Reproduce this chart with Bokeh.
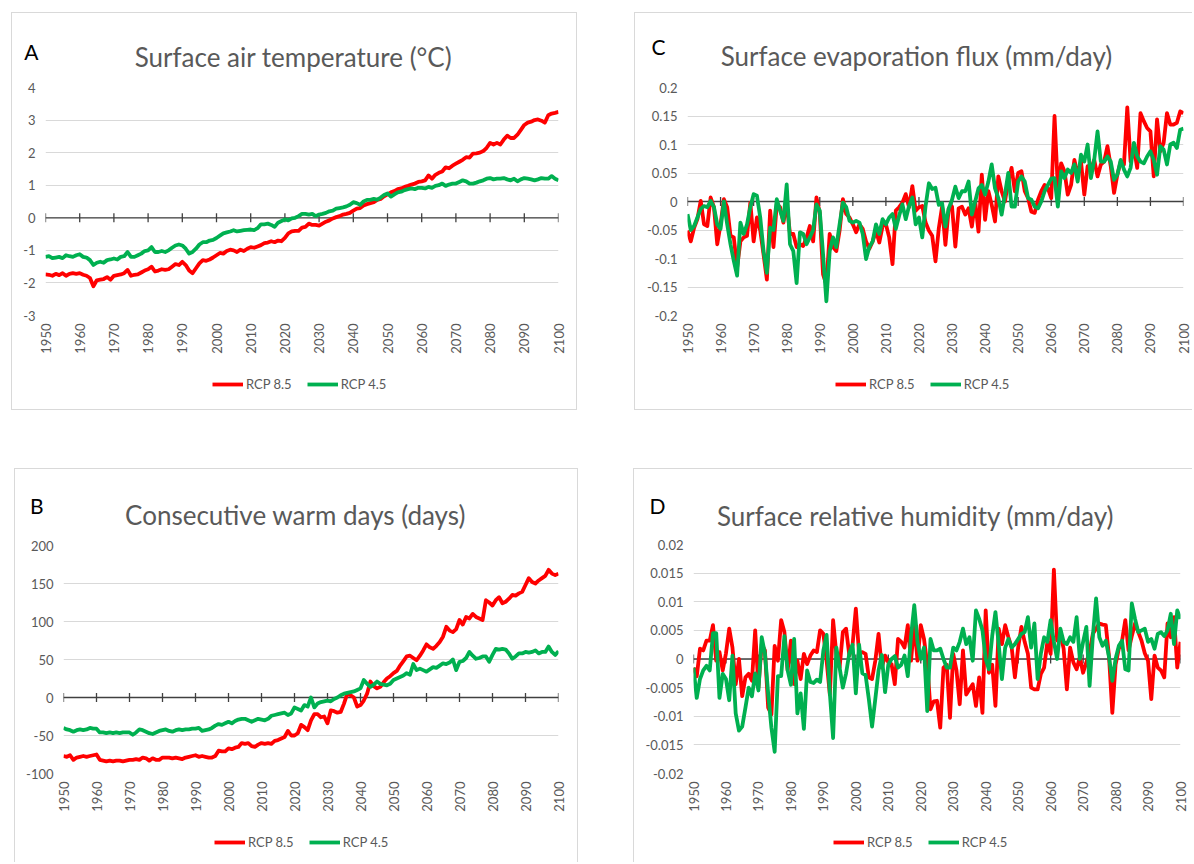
import math
from bokeh.plotting import figure
from bokeh.models import (Range1d, FixedTicker, Legend, LegendItem, Spacer, Span)
from bokeh.layouts import column, row
from bokeh.embed import file_html
from bokeh.resources import INLINE
from bokeh.core.properties import value

years = list(range(1950, 2101))
x_ticks = list(range(1950, 2101, 10))
x_tick_zero = [0] * len(x_ticks)

# ---------------- A: surface air temperature (°C) ----------------
temp_85 = [
    -1.74, -1.75, -1.78, -1.72, -1.76, -1.70, -1.78, -1.72, -1.70, -1.72,
    -1.70, -1.75, -1.78, -1.85, -2.10, -1.92, -1.90, -1.88, -1.82, -1.90,
    -1.78, -1.76, -1.74, -1.70, -1.60, -1.78, -1.75, -1.74, -1.68, -1.62,
    -1.58, -1.50, -1.65, -1.62, -1.58, -1.60, -1.58, -1.50, -1.42, -1.45,
    -1.35, -1.45, -1.62, -1.70, -1.55, -1.40, -1.30, -1.32, -1.28, -1.22,
    -1.15, -1.08, -1.10, -1.02, -0.98, -1.00, -1.05, -0.98, -1.02, -0.95,
    -0.90, -0.92, -0.88, -0.84, -0.78, -0.76, -0.72, -0.75, -0.70, -0.72,
    -0.62, -0.48, -0.42, -0.40, -0.40, -0.30, -0.28, -0.18, -0.22, -0.22,
    -0.24, -0.18, -0.12, -0.08, -0.02, 0.02, 0.05, 0.10, 0.12, 0.15,
    0.22, 0.28, 0.30, 0.38, 0.42, 0.45, 0.48, 0.55, 0.58, 0.66,
    0.72, 0.78, 0.82, 0.88, 0.90, 0.95, 0.98, 1.02, 1.05, 1.10,
    1.12, 1.15, 1.30, 1.20, 1.32, 1.38, 1.42, 1.55, 1.52, 1.60,
    1.66, 1.72, 1.78, 1.86, 1.85, 1.97, 1.98, 2.00, 2.05, 2.15,
    2.30, 2.25, 2.30, 2.25, 2.40, 2.52, 2.45, 2.45, 2.55, 2.70,
    2.85, 2.92, 2.95, 3.00, 3.02, 2.98, 2.92, 3.15, 3.20, 3.22,
    3.25,
]
temp_45 = [
    -1.20, -1.18, -1.24, -1.22, -1.20, -1.24, -1.15, -1.18, -1.20, -1.15,
    -1.12, -1.20, -1.22, -1.30, -1.45, -1.38, -1.35, -1.38, -1.30, -1.28,
    -1.25, -1.28, -1.20, -1.18, -1.05, -1.20, -1.20, -1.15, -1.10, -1.02,
    -1.00, -0.90, -1.05, -1.05, -1.02, -1.05, -1.00, -0.92, -0.85, -0.82,
    -0.85, -0.95, -1.10, -1.05, -0.95, -0.82, -0.75, -0.75, -0.70, -0.68,
    -0.62, -0.55, -0.48, -0.45, -0.42, -0.38, -0.42, -0.40, -0.38, -0.37,
    -0.36, -0.38, -0.32, -0.20, -0.20, -0.18, -0.22, -0.28, -0.15, -0.10,
    -0.05, -0.08, -0.02, 0.00, 0.05, 0.12, 0.12, 0.10, 0.12, 0.05,
    0.10, 0.12, 0.15, 0.20, 0.22, 0.28, 0.30, 0.32, 0.35, 0.40,
    0.48, 0.45, 0.40, 0.50, 0.55, 0.55, 0.58, 0.56, 0.62, 0.70,
    0.75, 0.65, 0.72, 0.78, 0.80, 0.85, 0.88, 0.90, 0.88, 0.92,
    0.92, 0.90, 0.95, 0.92, 0.98, 1.00, 1.05, 0.98, 1.02, 1.05,
    1.05, 1.10, 1.15, 1.12, 1.05, 1.05, 1.08, 1.12, 1.15, 1.20,
    1.22, 1.18, 1.20, 1.20, 1.22, 1.18, 1.15, 1.20, 1.12, 1.18,
    1.22, 1.20, 1.18, 1.15, 1.18, 1.22, 1.20, 1.20, 1.28, 1.20,
    1.15,
]
temp_ticks = [-3, -2, -1, 0, 1, 2, 3, 4]
temp_tick_labels = ["-3", "-2", "-1", "0", "1", "2", "3", "4"]

# ---------------- B: consecutive warm days (days) ----------------
cwd_85 = [
    -77, -78, -76, -82, -79, -78, -77, -78, -77, -76,
    -75, -82, -83, -84, -83, -84, -83, -83, -84, -83,
    -82, -82, -81, -82, -79, -80, -83, -80, -82, -82,
    -79, -79, -79, -80, -79, -80, -81, -79, -78, -77,
    -76, -78, -77, -78, -79, -79, -77, -70, -71, -71,
    -67, -68, -66, -65, -60, -61, -60, -64, -65, -62,
    -60, -61, -60, -61, -57, -56, -54, -52, -44, -50,
    -50, -47, -36, -39, -43, -30, -22, -22, -26, -25,
    -34, -17, -18, -20, -19, -8, 5, 3, 0, -12,
    -10, -4, 5, 21, 15, 12, 14, 20, 25, 28,
    32, 35, 42, 48, 54, 55, 52, 49, 55, 62,
    70, 66, 64, 68, 73, 80, 93, 88, 86, 90,
    102, 96, 106, 104, 110, 106, 104, 102, 128, 125,
    121, 128, 132, 124, 126, 130, 135, 134, 137, 139,
    148, 157, 152, 150, 154, 157, 160, 168, 163, 161,
    163,
]
cwd_45 = [
    -40, -42, -43, -45, -43, -42, -43, -42, -40, -41,
    -41, -46, -46, -47, -46, -47, -46, -47, -46, -46,
    -46, -49, -46, -42, -43, -45, -47, -48, -46, -44,
    -43, -42, -44, -45, -43, -42, -43, -42, -42, -41,
    -41, -40, -44, -43, -42, -40, -37, -35, -36, -34,
    -32, -34, -31, -29, -28, -28, -30, -32, -30, -28,
    -29, -30, -28, -24, -23, -22, -21, -20, -23, -21,
    -13, -15, -17, -10, -12, 0, -13, -8, -6, -5,
    -4, -5, -2, 0, 3, 5, 6, 7, 8, 10,
    12, 23, 18, 14, 17, 21, 18, 17, 16, 18,
    23, 25, 27, 29, 32, 30, 44, 36, 38, 36,
    34, 37, 40, 39, 42, 45, 44, 46, 50, 36,
    47, 48, 52, 60, 55, 51, 52, 54, 54, 47,
    56, 64, 63, 64, 63, 58, 51, 54, 58, 58,
    60, 59, 60, 62, 58, 60, 60, 67, 60, 56,
    61,
]
cwd_ticks = [-100, -50, 0, 50, 100, 150, 200]
cwd_tick_labels = ["-100", "-50", "0", "50", "100", "150", "200"]

# ---------------- C: surface evaporation flux (mm/day) ----------------
evap_85 = [
    -0.051, -0.070, -0.046, -0.031, 0.001, -0.040, -0.043, 0.007, -0.010, -0.075,
    -0.040, 0.004, -0.010, -0.060, -0.063, -0.116, -0.070, -0.063, -0.060, -0.002,
    -0.070, -0.028, -0.051, -0.093, -0.137, -0.016, -0.080, -0.005, -0.010, -0.037,
    -0.002, -0.057, -0.057, -0.080, -0.075, -0.078, -0.063, -0.043, -0.070, 0.007,
    -0.020, -0.128, -0.146, -0.057, -0.080, -0.087, -0.051, 0.004, -0.022, -0.028,
    -0.040, -0.054, -0.040, -0.048, -0.070, -0.083, -0.070, -0.051, -0.072, -0.043,
    -0.040, -0.063, -0.110, -0.016, -0.010, -0.002, 0.013, -0.010, 0.027, -0.016,
    -0.010, -0.008, -0.037, -0.051, -0.060, -0.105, -0.047, -0.009, -0.076, -0.012,
    -0.009, -0.079, -0.012, -0.009, -0.023, -0.012, -0.044, 0.000, -0.053, 0.047,
    -0.032, 0.018, -0.006, -0.035, 0.044, 0.018, 0.000, 0.035, 0.059, 0.018,
    0.050, 0.053, 0.018, 0.006, -0.018, -0.020, 0.003, 0.018, 0.029, 0.023,
    0.006, 0.150, 0.023, 0.067, 0.053, 0.012, 0.029, 0.073, 0.047, 0.070,
    0.012, 0.062, 0.056, 0.073, 0.044, 0.065, 0.070, 0.097, 0.062, 0.015,
    0.047, 0.070, 0.065, 0.165, 0.070, 0.094, 0.059, 0.155, 0.141, 0.129,
    0.123, 0.044, 0.144, 0.088, 0.103, 0.155, 0.135, 0.135, 0.138, 0.158,
    0.155,
]
evap_45 = [
    -0.022, -0.050, -0.043, -0.028, -0.013, -0.008, -0.010, 0.001, -0.010, -0.040,
    -0.048, 0.000, -0.040, -0.075, -0.104, -0.130, -0.037, -0.057, -0.040, -0.010,
    0.013, 0.010, -0.028, -0.087, -0.125, -0.046, -0.050, 0.004, -0.016, -0.034,
    0.030, -0.075, -0.087, -0.143, -0.054, -0.057, -0.075, -0.063, -0.050, -0.005,
    -0.016, -0.093, -0.175, -0.087, -0.063, -0.080, -0.040, -0.002, -0.010, -0.034,
    -0.037, -0.034, -0.037, -0.057, -0.101, -0.080, -0.070, -0.040, -0.057, -0.031,
    -0.040, -0.028, -0.022, -0.048, -0.025, -0.005, -0.031, -0.008, 0.007, -0.040,
    -0.028, -0.063, -0.008, 0.032, 0.022, 0.024, -0.006, -0.003, -0.044, -0.012,
    0.003, 0.026, 0.006, 0.018, 0.018, 0.035, -0.023, 0.000, 0.023, 0.029,
    0.012, 0.035, 0.065, 0.023, 0.006, -0.023, 0.012, 0.050, -0.009, -0.009,
    0.035, 0.044, 0.035, 0.006, 0.003, -0.009, -0.012, 0.000, 0.018, 0.029,
    0.040, 0.041, -0.009, 0.053, 0.041, 0.056, 0.050, 0.065, 0.035, 0.082,
    0.070, 0.100, 0.041, 0.073, 0.123, 0.070, 0.070, 0.079, 0.070, 0.038,
    0.047, 0.073, 0.056, 0.044, 0.059, 0.103, 0.079, 0.070, 0.067, 0.079,
    0.088, 0.073, 0.047, 0.097, 0.091, 0.065, 0.100, 0.103, 0.094, 0.126,
    0.128,
]
evap_ticks = [-0.2, -0.15, -0.1, -0.05, 0, 0.05, 0.1, 0.15, 0.2]
evap_tick_labels = ["-0.2", "-0.15", "-0.1", "-0.05", "0", "0.05", "0.1", "0.15", "0.2"]

# ---------------- D: surface relative humidity (mm/day) ----------------
hum_85 = [
    -0.0015, -0.0030, 0.0018, 0.0015, 0.0032, 0.0032, 0.0059, -0.0003, 0.0012, -0.0020,
    0.0010, 0.0053, 0.0020, -0.0044, 0.0000, -0.0065, -0.0032, -0.0026, -0.0038, 0.0050,
    -0.0050, 0.0026, 0.0015, -0.0085, -0.0097, 0.0023, -0.0003, 0.0068, 0.0047, -0.0020,
    0.0032, -0.0044, -0.0003, -0.0035, 0.0009, -0.0009, 0.0006, 0.0015, 0.0012, 0.0050,
    0.0044, -0.0003, -0.0062, 0.0068, 0.0009, -0.0015, 0.0047, 0.0053, 0.0006, 0.0025,
    0.0088, 0.0009, 0.0012, 0.0009, -0.0032, -0.0035, -0.0003, 0.0044, -0.0015, 0.0006,
    -0.0006, -0.0009, -0.0044, 0.0035, 0.0030, 0.0020, 0.0059, -0.0003, 0.0062, -0.0003,
    0.0059, 0.0035, -0.0009, -0.0088, -0.0074, -0.0073, -0.0120, -0.0015, -0.0010, -0.0103,
    0.0009, -0.0020, -0.0079, 0.0015, -0.0062, -0.0053, -0.0044, -0.0082, -0.0032, -0.0094,
    0.0085, -0.0024, -0.0010, -0.0082, 0.0053, 0.0026, 0.0059, 0.0038, 0.0020, -0.0032,
    0.0020, 0.0056, 0.0030, 0.0009, -0.0050, -0.0053, -0.0053, -0.0026, -0.0015, 0.0030,
    0.0009, 0.0156, 0.0032, 0.0044, 0.0018, -0.0053, 0.0020, -0.0006, -0.0018, 0.0003,
    -0.0024, -0.0006, 0.0012, 0.0044, 0.0053, 0.0062, 0.0060, 0.0059, 0.0003, -0.0094,
    -0.0010, 0.0018, 0.0032, 0.0068, 0.0015, 0.0040, 0.0062, 0.0047, 0.0032, 0.0010,
    -0.0003, -0.0070, 0.0006, -0.0015, -0.0020, -0.0032, 0.0062, 0.0038, 0.0073, -0.0015,
    0.0030,
]
hum_45 = [
    -0.0015, -0.0068, -0.0035, -0.0020, -0.0012, -0.0020, 0.0045, 0.0045, -0.0068, -0.0026,
    -0.0035, -0.0072, 0.0006, -0.0095, -0.0125, -0.0118, -0.0085, -0.0050, -0.0065, -0.0025,
    -0.0055, 0.0038, 0.0010, -0.0060, -0.0120, -0.0162, -0.0030, -0.0030, 0.0040, -0.0020,
    -0.0045, 0.0035, -0.0095, -0.0060, -0.0122, -0.0020, -0.0040, -0.0042, -0.0036, -0.0040,
    0.0015, 0.0042, -0.0060, -0.0138, 0.0020, -0.0015, -0.0050, -0.0025, 0.0010, 0.0025,
    -0.0060, 0.0025, -0.0025, -0.0028, -0.0070, -0.0118, -0.0070, -0.0020, 0.0007, -0.0058,
    -0.0010, 0.0000, 0.0005, -0.0015, -0.0010, 0.0006, -0.0030, 0.0040, 0.0094, 0.0030,
    0.0000, 0.0020, -0.0091, 0.0035, 0.0015, 0.0015, 0.0018, 0.0000, -0.0015, -0.0015,
    0.0020, 0.0015, 0.0030, 0.0053, 0.0026, 0.0038, -0.0003, 0.0085, 0.0070, 0.0050,
    0.0000, -0.0018, 0.0040, 0.0082, 0.0026, -0.0035, 0.0020, 0.0035, 0.0020, 0.0026,
    0.0035, 0.0044, 0.0047, 0.0073, 0.0020, 0.0062, -0.0035, 0.0010, 0.0038, 0.0030,
    0.0068, 0.0030, 0.0000, 0.0053, 0.0030, 0.0026, 0.0038, 0.0030, 0.0073, 0.0000,
    0.0030, 0.0056, -0.0047, 0.0040, 0.0106, 0.0038, 0.0023, 0.0032, 0.0003, -0.0038,
    0.0000, 0.0023, 0.0032, -0.0018, -0.0020, 0.0097, 0.0070, 0.0047, 0.0050, 0.0053,
    0.0030, 0.0035, 0.0018, 0.0044, 0.0047, 0.0040, 0.0050, 0.0079, 0.0026, 0.0085,
    0.0070,
]
hum_ticks = [-0.02, -0.015, -0.01, -0.005, 0, 0.005, 0.01, 0.015, 0.02]
hum_tick_labels = ["-0.02", "-0.015", "-0.01", "-0.005", "0", "0.005", "0.01", "0.015", "0.02"]

series_names = ["RCP 8.5", "RCP 4.5"]
RED = "#ff0000"
GREEN = "#00b050"
GRAY = "#595959"
AXIS = "#404040"
FONT = "Lato"
BORDER = "1px solid #d9d9d9"
LW = 3.8


def blank_fig(w, h, left, right, x_end, y_end):
    f = figure(width=w, height=h, x_range=Range1d(0, x_end), y_range=Range1d(0, y_end),
               x_axis_type=None, title=None, output_backend="svg",
               toolbar_location=None, min_border_left=left, min_border_right=right,
               min_border_top=0, min_border_bottom=0, outline_line_color=None,
               background_fill_color="white", border_fill_color="white")
    f.xgrid.visible = False
    f.ygrid.visible = False
    return f


def make_panel(s85, s45, ticks, tick_labels, title, letter, inner_w, inner_h,
               left, right, header_h, footer_h, top, bottom,
               title_pos, letter_pos, legend_pos, sides):
    fw = inner_w - left - right

    # ---- header: chart title (text glyph) and panel letter (left label) ----
    h = blank_fig(inner_w, header_h, left, right, fw, header_h)
    h.text(x=[title_pos[0]], y=[title_pos[1]], text=[title],
           text_font=value(FONT), text_font_size=value("26px"),
           text_color=GRAY, text_align="center", text_baseline="alphabetic")
    h.yaxis.ticker = FixedTicker(ticks=[letter_pos[1]])
    h.yaxis.major_label_overrides = {letter_pos[1]: letter}
    h.yaxis.major_label_standoff = letter_pos[0]
    h.yaxis.axis_line_color = None
    h.yaxis.major_tick_line_color = None
    h.yaxis.minor_tick_line_color = None
    h.yaxis.major_tick_in = 0
    h.yaxis.major_tick_out = 0
    h.yaxis.major_label_text_font = FONT
    h.yaxis.major_label_text_font_size = "21px"
    h.yaxis.major_label_text_color = "#000000"

    # ---- chart ----
    p = figure(width=inner_w, height=inner_h - header_h - footer_h,
               x_range=Range1d(1950, 2100),
               y_range=Range1d(ticks[0], ticks[-1]),
               output_backend="svg", toolbar_location=None, title=None,
               min_border_left=left, min_border_right=right,
               min_border_top=top, min_border_bottom=bottom,
               background_fill_color="white", border_fill_color="white",
               outline_line_color=None)

    p.xaxis.ticker = FixedTicker(ticks=x_ticks)
    p.xaxis.axis_line_color = None
    p.xaxis.major_tick_line_color = None
    p.xaxis.minor_tick_line_color = None
    p.xaxis.major_tick_in = 0
    p.xaxis.major_tick_out = 0
    p.xaxis.major_label_orientation = math.pi / 2
    p.xaxis.major_label_standoff = 8
    p.xaxis.major_label_text_font = FONT
    p.xaxis.major_label_text_font_size = "13px"
    p.xaxis.major_label_text_color = GRAY

    p.yaxis.ticker = FixedTicker(ticks=ticks)
    p.yaxis.major_label_overrides = {t: s for t, s in zip(ticks, tick_labels)}
    p.yaxis.axis_line_color = None
    p.yaxis.major_tick_line_color = None
    p.yaxis.minor_tick_line_color = None
    p.yaxis.major_tick_in = 0
    p.yaxis.major_tick_out = 0
    p.yaxis.major_label_standoff = 10
    p.yaxis.major_label_text_font = FONT
    p.yaxis.major_label_text_font_size = "13px"
    p.yaxis.major_label_text_color = GRAY

    p.xgrid.grid_line_color = None
    p.ygrid.grid_line_color = "#d9d9d9"
    p.ygrid.grid_line_width = 1

    p.add_layout(Span(location=0, dimension="width", line_color=AXIS,
                      line_width=1.3, level="underlay"))
    p.scatter(x=x_ticks, y=x_tick_zero, marker="dash", angle=math.pi / 2,
              size=9, line_color=AXIS, line_width=1.3)

    p.line(years, s85, line_color=RED, line_width=LW, line_join="round")
    p.line(years, s45, line_color=GREEN, line_width=LW, line_join="round")

    # ---- footer: legend (its renderers carry the same series, out of this
    #      footer's view, only to give the legend its line samples) ----
    f = blank_fig(inner_w, footer_h, left, right, fw, footer_h)
    f.yaxis.visible = False
    k85 = f.line(years, s85, line_color=RED, line_width=LW)
    k45 = f.line(years, s45, line_color=GREEN, line_width=LW)
    legend = Legend(items=[LegendItem(label=series_names[0], renderers=[k85]),
                           LegendItem(label=series_names[1], renderers=[k45])],
                    location=legend_pos, orientation="horizontal",
                    border_line_color=None, background_fill_alpha=0,
                    padding=0, margin=0, spacing=15,
                    glyph_width=31, glyph_height=14, label_height=14,
                    label_standoff=3, label_text_font=FONT,
                    label_text_font_size="13px", label_text_color=GRAY)
    f.add_layout(legend)

    styles = {"border-" + s: BORDER for s in sides}
    return column(h, p, f, styles=styles)


# panel A: box x 11..577, y 12..410 (inner 12..576 x 13..409)
pA = make_panel(temp_85, temp_45, temp_ticks, temp_tick_labels,
                "Surface air temperature (°C)", "A", 564, 396,
                33, 18, 63, 49, 11, 45,
                (248, 20), (7, 25.5), (167, 17),
                ["left", "right", "top", "bottom"])
# panel C: box x 634..1192, y 12..410
pC = make_panel(evap_85, evap_45, evap_ticks, evap_tick_labels,
                "Surface evaporation flux (mm/day)", "C", 557, 396,
                52, 9, 63, 49, 11, 45,
                (229, 21), (22, 30.5), (148, 17),
                ["left", "top", "bottom"])
# panel B: box x 14..578, y 468..862
pB = make_panel(cwd_85, cwd_45, cwd_ticks, cwd_tick_labels,
                "Consecutive warm days (days)", "B", 562, 393,
                48, 19, 63, 45, 13, 44,
                (232, 18), (20, 27.5), (151, 12),
                ["left", "right", "top"])
# panel D: box x 633..1192, y 468..862
pD = make_panel(hum_85, hum_45, hum_ticks, hum_tick_labels,
                "Surface relative humidity (mm/day)", "D", 558, 393,
                59, 12, 63, 45, 12, 44,
                (222, 17), (28, 27.5), (140, 12),
                ["left", "top"])

top_row = row(Spacer(width=11, height=398), pA, Spacer(width=57, height=398), pC)
bottom_row = row(Spacer(width=14, height=394), pB, Spacer(width=55, height=394), pD)
page = column(Spacer(width=1192, height=12), top_row,
              Spacer(width=1192, height=58), bottom_row)

open("out.html", "w").write(file_html(page, INLINE))
